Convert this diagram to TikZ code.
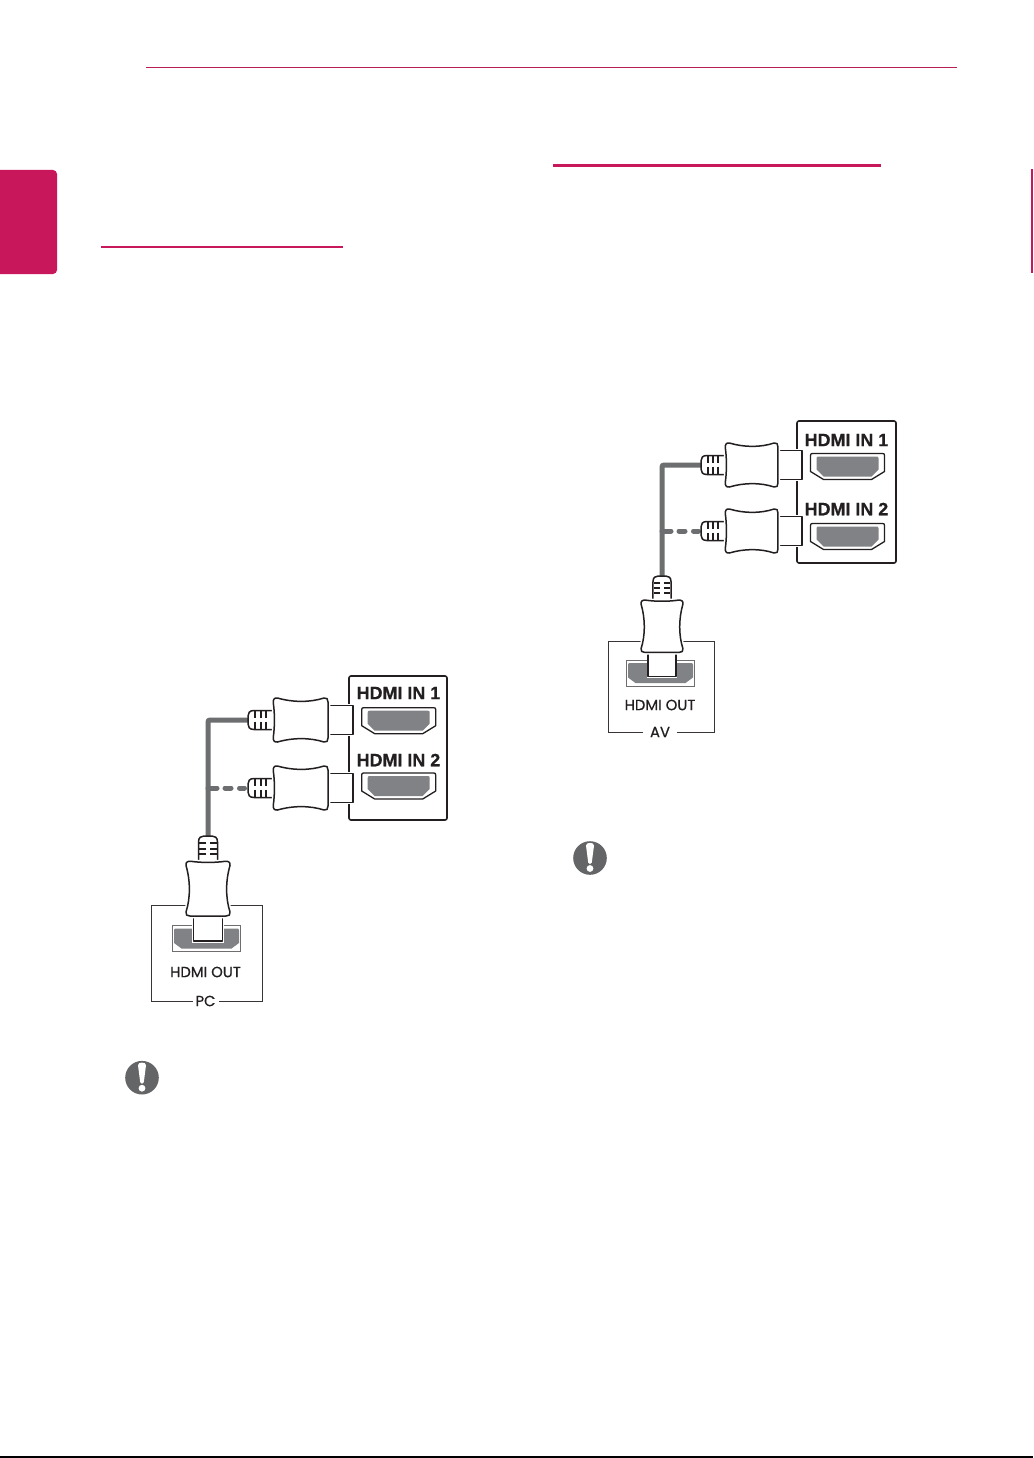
\documentclass[tikz,border=0pt]{standalone}
\usepackage{fontspec}
\setmainfont{Liberation Sans}
\newfontfamily\inpanelfont[FakeBold=0.5]{Liberation Sans Bold}
\newfontfamily\devfont[FakeBold=0.6]{Poppins}
\definecolor{crimson}{HTML}{C8175B}
\definecolor{rulecol}{HTML}{B81E54}
\definecolor{cablecol}{HTML}{6D6E70}
\definecolor{portcol}{HTML}{808285}
\definecolor{inkcol}{HTML}{231F20}
\tikzset{
  x=1pt,y=-1pt,
  panelbox/.style={draw=inkcol,line width=1.6pt,rounded corners=2pt,fill=white},
  devbox/.style={draw=inkcol!90,line width=.95pt,fill=white},
  cable/.style={draw=cablecol,line width=5pt,rounded corners=2pt},
  cabledash/.style={draw=cablecol,line width=5pt,line cap=round,dash pattern=on 9pt off 8pt on 6pt off 8.5pt on 5pt off 20pt},
  plugline/.style={draw=inkcol,line width=1.5pt,fill=white,line join=round},
  halo/.style={preaction={draw=white,line width=4.5pt}},
  tonguehalo/.style={preaction={draw=white,line width=3.2pt}},
  intext/.style={font=\inpanelfont\fontsize{17.9}{18}\selectfont,text=inkcol,inner sep=0pt,anchor=west},
  outtext/.style={font=\devfont\fontsize{14.8}{16}\selectfont,text=inkcol,inner sep=0pt},
  taglabel/.style={font=\devfont\fontsize{14.8}{16}\selectfont,text=inkcol,fill=white,inner ysep=0pt},
  plug/.pic={
    \path[plugline,tonguehalo] (80,-14.5) rectangle (105,14.5);
    \path[plugline] (26,-9.5) -- (6,-9.5) .. controls (1.5,-9.5) and (0,-7) .. (0,-4) -- (0,4) .. controls (0,7) and (1.5,9.5) .. (6,9.5) -- (26,9.5) -- cycle;
    \foreach \rx in {7,12.7,18}{
      \draw[inkcol,line width=2.2pt] (\rx,-8.8) -- (\rx,-1.7) (\rx,1.7) -- (\rx,8.8);
    }
    \path[plugline,halo] (29.5,-22) .. controls (45,-17.5) and (62,-17.5) .. (76,-22) .. controls (78.8,-22.6) and (80,-21) .. (80,-18) -- (80,18) .. controls (80,21) and (78.8,22.6) .. (76,22) .. controls (62,17.5) and (45,17.5) .. (29.5,22) .. controls (26.5,22.6) and (24.8,20.5) .. (25.3,17) .. controls (26.8,7) and (26.8,-7) .. (25.3,-17) .. controls (24.8,-20.5) and (26.5,-22.6) .. (29.5,-22) -- cycle;
  },
  inport/.pic={
    \path[draw=inkcol,line width=1.3pt,fill=white,line join=round] (-35,-13) -- (35,-13) .. controls (36.5,-13) and (37,-12.5) .. (37,-11) -- (37,5) -- (24,13) -- (-24,13) -- (-37,5) -- (-37,-11) .. controls (-37,-12.5) and (-36.5,-13) .. (-35,-13) -- cycle;
    \fill[portcol] (-29,-10) -- (29,-10) .. controls (30.5,-10) and (31,-9.5) .. (31,-8) -- (31,3) -- (24,10) -- (-24,10) -- (-31,3) -- (-31,-8) .. controls (-31,-9.5) and (-30.5,-10) .. (-29,-10) -- cycle;
  },
  outport/.pic={
    \draw[inkcol!65,line width=.8pt] (-34,-13) rectangle (34,13);
    \fill[portcol] (-30.5,-10) -- (30.5,-10) .. controls (32,-10) and (32.5,-9.5) .. (32.5,-8) -- (32.5,4.5) -- (25,10) -- (-25,10) -- (-32.5,4.5) -- (-32.5,-8) .. controls (-32.5,-9.5) and (-32,-10) .. (-30.5,-10) -- cycle;
  },
  noteicon/.pic={
    \fill[cablecol!92!black] (0,0) circle (16.8);
    \fill[white] (-4,-12.5) .. controls (-4,-16) and (4,-16) .. (4,-12.5) -- (1.8,4.5) .. controls (1.6,6.5) and (-1.6,6.5) .. (-1.8,4.5) -- cycle;
    \fill[white] (0,10.5) circle (3.4);
  },
}
\begin{document}
\begin{tikzpicture}
\useasboundingbox[fill=white] (0,0) rectangle (1033,1458);
% page furniture
\draw[rulecol,line width=1pt] (146,67.5) -- (957,67.5);
\fill[crimson,rounded corners=4pt] (-8,170) rectangle (57,274);
\draw[crimson,line width=1.5pt] (1032,169) -- (1032,273);
\draw[crimson,line width=2pt] (101,246.7) -- (343,246.7);
\draw[crimson,line width=3pt] (553,165.3) -- (881,165.3);
\draw[black,line width=1.5pt] (0,1457.2) -- (1033,1457.2);

% ---------- left diagram ----------
\draw[panelbox] (349,676) rectangle (447,820);
\node[intext] (lin1) at (356.5,693) {HDMI IN 1};
\node[intext] (lin2) at (356.5,760) {HDMI IN 2};
\pic at (398.7,720.7) {inport};
\pic at (398.7,786) {inport};
\draw[devbox] (151,905) rectangle (262,1001);
\pic at (206.5,938.5) {outport};
\node[outtext] (lout) at (205.5,972) {HDMI OUT};
\node[taglabel,inner xsep=3pt] (lpc) at (205.5,1001) {PC};
\coordinate (lA) at (248,720);
\coordinate (lB) at (248,788);
\coordinate (lC) at (208,836);
\draw[cable] (lA) -| (lC);
\draw[cabledash] (lB -| lC) -- (lB);
\pic at (lA) {plug};
\pic at (lB) {plug};
\pic[rotate=-90] at (lC) {plug};
\pic at (142,1077.7) {noteicon};

% ---------- right diagram ----------
\draw[panelbox] (797,421) rectangle (896,563);
\node[intext] (rin1) at (804.5,440) {HDMI IN 1};
\node[intext] (rin2) at (804.5,509) {HDMI IN 2};
\pic at (847.5,466.5) {inport};
\pic at (847.5,536.5) {inport};
\draw[devbox] (608,641) rectangle (714,732);
\pic at (660.5,673) {outport};
\node[outtext] (rout) at (660,705) {HDMI OUT};
\node[taglabel,inner xsep=7pt] (rav) at (660,732) {AV};
\coordinate (rA) at (701,465);
\coordinate (rB) at (701,531);
\coordinate (rC) at (662,576);
\draw[cable] (rA) -| (rC);
\draw[cabledash] (rB -| rC) -- (rB);
\pic[xscale=.962] at (rA) {plug};
\pic[xscale=.962] at (rB) {plug};
\pic[rotate=-90,xscale=.955,yscale=.95] at (rC) {plug};
\pic at (590,858) {noteicon};
\end{tikzpicture}
\end{document}
